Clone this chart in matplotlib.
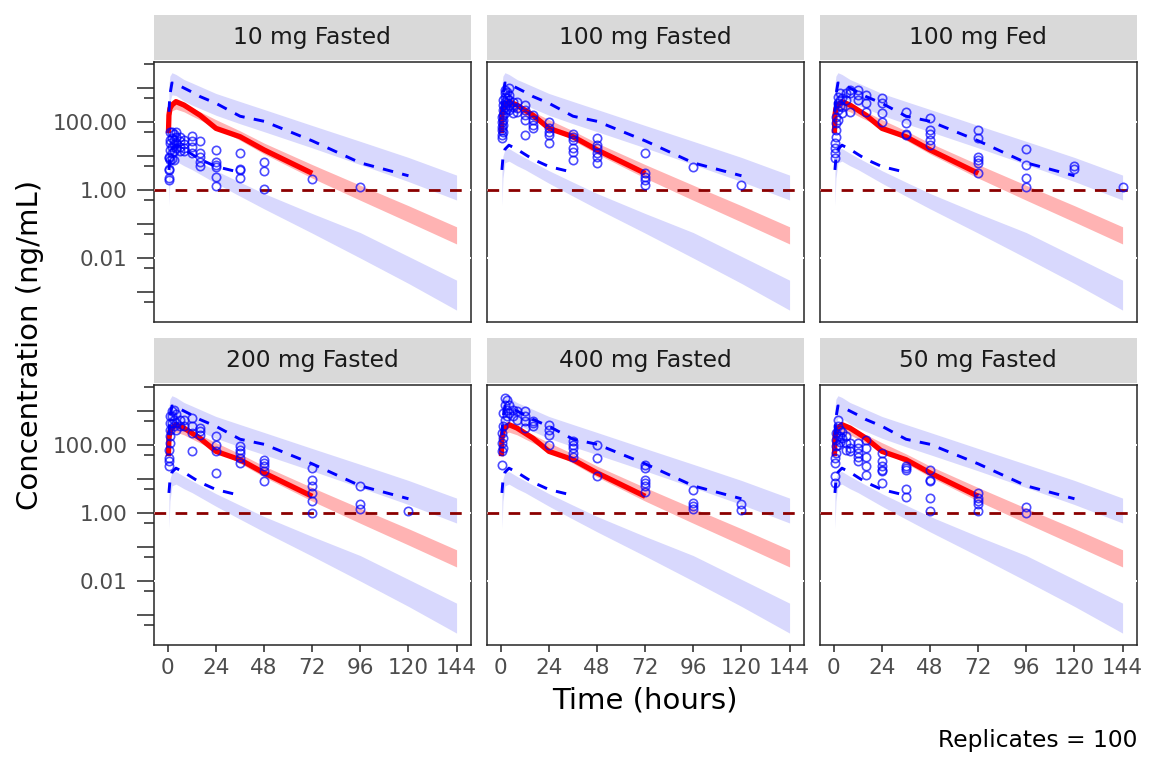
import matplotlib
matplotlib.use("Agg")
import matplotlib.pyplot as plt
import numpy as np
from matplotlib.patches import Rectangle

plt.rcParams.update({
    "font.family": "DejaVu Sans",
    "axes.linewidth": 1.0,
})

# -----------------------------
# Data
# -----------------------------
panels = ["10 mg Fasted", "100 mg Fasted", "100 mg Fed",
          "200 mg Fasted", "400 mg Fasted", "50 mg Fasted"]
lloq = 1.0
replicates = 100

# simulated prediction intervals (same for all panels)
sim_time = [0.5, 1, 2, 4, 8, 12, 24, 36, 48, 72, 96, 120, 144]
hi_ci_top = [1260, 2240, 2820, 2510, 1780, 1410, 690, 400, 234, 79, 27, 9.1, 2.75]
hi_ci_bot = [79, 398, 631, 603, 417, 316, 158, 89, 52, 17.4, 5.6, 1.78, 0.51]
med_ci_top = [79, 234, 372, 417, 347, 263, 117, 55, 24, 5.6, 1.38, 0.347, 0.083]
med_ci_bot = [40, 135, 214, 240, 200, 151, 68, 29, 11.5, 2.24, 0.50, 0.115, 0.026]
lo_ci_top = [3.16, 10, 15.8, 16.6, 12, 8.9, 3.7, 1.7, 0.79, 0.204, 0.056, 0.0112, 0.00224]
lo_ci_bot = [0.355, 2.24, 6.3, 7.1, 5.2, 4.0, 1.58, 0.66, 0.28, 0.054, 0.01, 0.0018, 0.000295]

# observed percentiles
obs_time = [0.25, 0.5, 1, 2, 4, 8, 12, 16, 24, 36, 48, 72, 96, 120]
obs_med = [47, 158, 251, 316, 398, 316, 224, 158, 65, 37, 15.1, 3.1, np.nan, np.nan]
obs_hi = [np.nan, 200, 631, 1410, 1320, 1000, 760, 562, 355, 148, 105, 28, 6.3, 2.63]
obs_lo = [np.nan, 3.9, 8.9, 15.8, 20.9, 15.8, 11.2, 8.0, 4.9, 3.3,
          np.nan, np.nan, np.nan, np.nan]

# observed concentrations, one list per nominal time
pt_time = [0.5, 1, 2, 3, 4, 6, 8, 12, 16, 24, 36, 48, 72, 96, 120, 144]
conc_10_fasted = [
    [2.0, 2.2, 3.9, 4.3, 8.5, 9.5], [7.6, 15, 24, 30, 52], [8, 12, 19, 33, 52],
    [7.6, 14, 22, 30, 46], [17, 24, 37, 52], [14, 19, 27, 37], [14, 17, 22, 30],
    [12, 19, 27, 40], [5.2, 6.8, 9.5, 12, 27], [1.3, 2.4, 4.9, 5.4, 6.8, 15],
    [2.2, 3.9, 4.3, 12], [1.05, 3.7, 6.8], [2.1], [1.26], [], []]
conc_100_fasted = [
    [33, 41, 58, 73, 102, 144], [52, 81, 115, 160, 225, 317, 445],
    [180, 283, 400, 557, 700, 880], [250, 360, 500, 780], [225, 317, 445, 620, 980],
    [180, 283, 400], [200, 252, 400], [41, 115, 160, 225, 317], [65, 81, 115, 160],
    [24, 41, 52, 65, 102], [7.6, 13.5, 17, 30, 37, 46], [6.1, 9.5, 12, 17, 21, 33],
    [1.4, 2.0, 2.5, 3.1, 12], [4.7], [1.4], []]
conc_100_fed = [
    [8.5, 12, 17, 24], [37, 58, 91, 144], [115, 225, 355, 557], [300, 445, 700],
    [180, 280, 500], [445, 700], [200, 700, 875], [445, 625, 875], [200, 355, 625],
    [102, 180, 355, 500], [41, 46, 91, 200], [21, 30, 46, 58, 129],
    [3.1, 6.1, 7.6, 9.5, 33, 58], [1.26, 2.2, 5.4, 16], [4.3, 5.0], [1.26]]
conc_200_fasted = [
    [24, 33, 41, 73], [115, 180, 283, 445, 700], [445, 700, 980], [355, 557, 1100],
    [283, 445, 800], [355, 557], [355, 557], [65, 225, 355, 625], [200, 252, 317],
    [15, 65, 102, 180], [30, 41, 58, 73, 91], [8.5, 17, 24, 30, 37],
    [1.0, 2.2, 3.9, 6.1, 9.5, 21], [1.3, 1.9, 6.1], [1.12], []]
conc_400_fasted = [
    [26, 65, 115, 225], [81, 160, 355, 875], [557, 1530, 2420], [700, 1100, 2160],
    [875, 1530], [700, 1100], [557, 980], [317, 500, 700, 980], [355, 445, 500],
    [102, 200, 283, 400], [46, 58, 81, 102, 129], [12, 41, 102],
    [4.3, 6.1, 7.6, 9.5, 21, 26], [1.3, 1.6, 2.0, 4.9], [1.26, 1.9], []]
conc_50_fasted = [
    [7.6, 12, 30, 41], [58, 91, 144, 225], [100, 180, 355, 557], [120, 180, 283],
    [160, 250], [73, 115, 180], [65, 81, 115], [33, 46, 58, 81, 115],
    [13.5, 24, 46, 81, 144], [7.9, 17, 19, 24, 33, 58], [2.9, 5.0, 19, 21, 24],
    [1.12, 2.7, 8.5, 9.5, 18], [1.12, 1.8, 2.2, 2.8, 3.9], [1.0, 1.5], [], []]
panel_conc = [conc_10_fasted, conc_100_fasted, conc_100_fed,
              conc_200_fasted, conc_400_fasted, conc_50_fasted]

x_ticks = [0, 24, 48, 72, 96, 120, 144]
y_labels = {0.01: "0.01", 1: "1.00", 100: "100.00"}

# -----------------------------
# Style
# -----------------------------
band_blue = "#D8D8FD"
band_red = "#FFB3B3"
pt_blue = "#0000FF"
line_red = "#FF0000"
lloq_c = "#8B0000"
border_c = "#262626"
strip_c = "#D9D9D9"
tick_c = "#4D4D4D"

W, H = 1152, 768
fig = plt.figure(figsize=(W / 100, H / 100), dpi=100)

col_left = [153.5, 486.5, 819.5]
row_top = [61.5, 384.5]
pw, ph = 317.5, 260.5
strip_h = 45

decades = [10.0 ** k for k in range(-3, 4)]
halves = [5 * 10.0 ** k for k in range(-4, 4)]

for i, name in enumerate(panels):
    r, c = divmod(i, 3)
    left, top = col_left[c], row_top[r]
    ax = fig.add_axes([left / W, 1 - (top + ph) / H, pw / W, ph / H])
    ax.set_yscale("log")
    ax.set_xlim(-7.2, 151.2)
    ax.set_ylim(10 ** -3.88, 10 ** 3.78)

    for s in ax.spines.values():
        s.set_color(border_c)
        s.set_linewidth(1.1)
        s.set_zorder(0.4)

    # white major grid lines (peek through the border)
    for yv in y_labels:
        ax.axhline(yv, color="white", lw=1.4, zorder=0.5)

    ax.fill_between(sim_time, hi_ci_bot, hi_ci_top, color=band_blue, lw=0, zorder=1)
    ax.fill_between(sim_time, lo_ci_bot, lo_ci_top, color=band_blue, lw=0, zorder=1)
    ax.fill_between(sim_time, med_ci_bot, med_ci_top, color=band_red, lw=0, zorder=1.1)

    ax.axhline(lloq, color=lloq_c, lw=2.0, dashes=(4.2, 3.4), zorder=2)

    ax.plot(obs_time, obs_med, color=line_red, lw=3.8, solid_capstyle="butt", zorder=3)
    ax.plot(obs_time, obs_hi, color=pt_blue, lw=2.1, dashes=(3.6, 3.2), zorder=3)
    ax.plot(obs_time, obs_lo, color=pt_blue, lw=2.1, dashes=(3.6, 3.2), zorder=3)

    xs, ys = [], []
    for t, cl in zip(pt_time, panel_conc[i]):
        xs += [t] * len(cl)
        ys += cl
    ax.plot(xs, ys, ls="none", marker="o", ms=6.0, mfc="none", mec=pt_blue,
            mew=1.2, alpha=0.7, zorder=4)

    # ticks
    ax.set_yticks(decades)
    ax.set_yticks(halves, minor=True)
    ax.yaxis.set_minor_formatter(plt.NullFormatter())
    ax.set_xticks(x_ticks)
    if c == 0:
        ax.set_yticklabels([y_labels.get(d, "") for d in decades])
        ax.tick_params(axis="y", which="major", length=12.5, width=1.1,
                       color=border_c, labelcolor=tick_c, labelsize=15.5, pad=6)
        ax.tick_params(axis="y", which="minor", length=7.3, width=1.1, color=border_c)
    else:
        ax.tick_params(axis="y", which="both", left=False, labelleft=False)
    if r == 1:
        ax.tick_params(axis="x", length=5.2, width=1.1, color=border_c,
                       labelcolor=tick_c, labelsize=15.5, pad=4)
    else:
        ax.tick_params(axis="x", bottom=False, labelbottom=False)

    # strip
    ax.add_patch(Rectangle((0, 1 + 1.5 / ph), 1, strip_h / ph, transform=ax.transAxes,
                           facecolor=strip_c, edgecolor="none", clip_on=False))
    ax.text(0.5, 1 + (1.5 + strip_h / 2) / ph, name, transform=ax.transAxes,
            ha="center", va="center", fontsize=16.8, color="#1A1A1A")

fig.text(645 / W, 1 - 700 / H, "Time (hours)", ha="center", va="center", fontsize=21)
fig.text(30 / W, 1 - 345 / H, "Concentration (ng/mL)", ha="center", va="center",
         rotation=90, fontsize=21)
fig.text(1137 / W, 1 - 740 / H, f"Replicates = {replicates}", ha="right",
         va="center", fontsize=16.8)

fig.savefig("out.png", dpi=100)
